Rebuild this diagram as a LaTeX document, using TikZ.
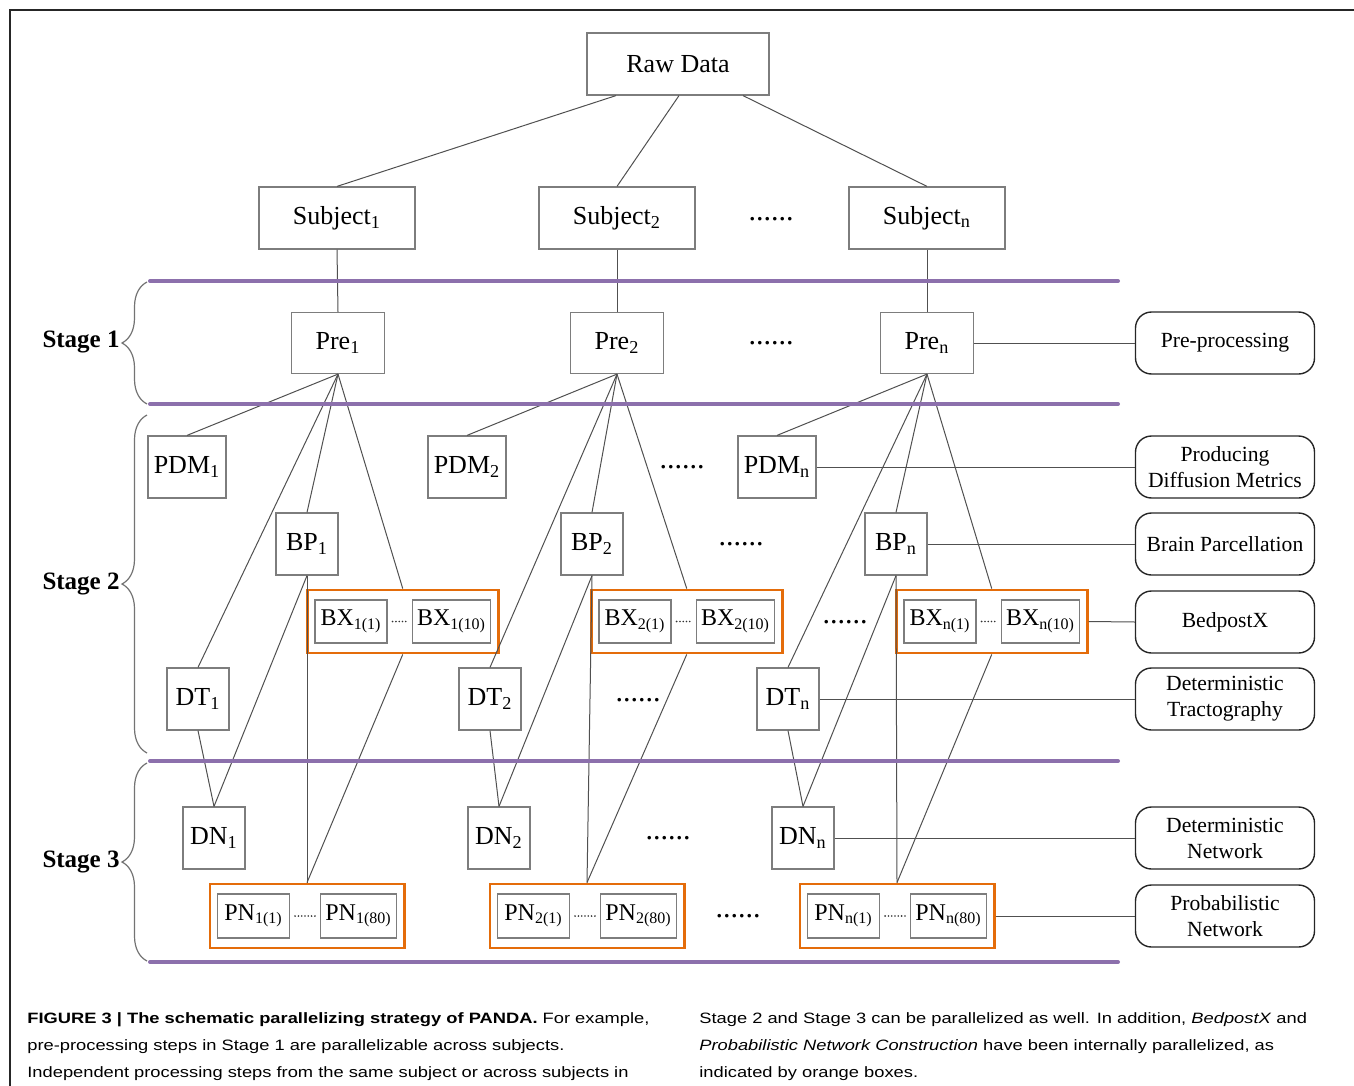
\documentclass[tikz,border=0pt]{standalone}
\usepackage{fontspec}
\setmainfont{Liberation Serif}
\newfontfamily\capfont[FakeStretch=1.22]{Liberation Sans}
\usetikzlibrary{fit,decorations.pathreplacing,calc}
\definecolor{purp}{RGB}{140,112,172}
\definecolor{orng}{RGB}{228,108,10}
\definecolor{boxgray}{RGB}{125,125,125}
\definecolor{linegray}{RGB}{80,80,80}
\newcommand\nfont{\fontsize{13}{15}\selectfont}
\newcommand\lfont{\fontsize{10.8}{13}\selectfont}
\begin{document}
\begin{tikzpicture}[x=0.5pt,y=-0.5pt,
  box/.style={draw=boxgray, line width=0.6pt, inner sep=0pt, font=\nfont, fill=white},
  sq/.style={box, minimum width=31pt, minimum height=31pt},
  ibox/.style={box, minimum height=21.5pt, font=\fontsize{12}{14}\selectfont},
  obox/.style={draw=orng, line width=1.4pt, inner xsep=3.5pt, inner ysep=4.7pt},
  lbl/.style={draw=black!85, line width=0.7pt, rounded corners=8pt, minimum width=89.5pt, minimum height=31pt, align=center, font=\lfont, inner sep=0pt},
  conn/.style={draw=linegray, line width=0.5pt},
  sepline/.style={draw=purp, line width=2pt, line cap=round},
  bigdots/.style={font=\fontsize{15}{15}\selectfont, anchor=base, inner sep=0pt},
  idots/.style={draw=black!80, line width=0.9pt, line cap=round, dash pattern=on 0pt off 1.65pt, shorten <=2.5pt, shorten >=1.5pt},
  stagebrace/.style={draw=black!55, line width=0.6pt, decorate, decoration={brace, amplitude=12.5pt}},
  stagelbl/.style={font=\fontsize{12.5}{15}\selectfont\bfseries, anchor=east, inner sep=0pt},
  captext/.style={font=\capfont\fontsize{7.5}{13.5}\selectfont, anchor=base west, inner sep=0pt}
]
\useasboundingbox (0,0) rectangle (1354,1086);
\draw[line width=1pt, black!85] (10,1086) -- (10,10) -- (1354,10);

\node[box, minimum width=91pt, minimum height=31pt] (raw) at (678,64) {Raw Data};

\foreach \k/\s/\p/\m/\b/\x/\d/\e/\q in {1/337/338/187/307/403/198/214/306.5, 2/617/617/467/592/687/490/499/586.5, n/927/927/777/896/992/788/803/896.5}{
  \node[box, minimum width=78pt, minimum height=31pt] (s\k) at (\s,218) {Subject\textsubscript{\k}};
  \node[box, minimum width=46.5pt, minimum height=30.5pt] (pre\k) at (\p,343) {Pre\textsubscript{\k}};
  \node[box, minimum width=39pt, minimum height=31pt] (pdm\k) at (\m,467) {PDM\textsubscript{\k}};
  \node[sq] (bp\k) at (\b,544) {BP\textsubscript{\k}};
  \node[ibox, minimum width=36pt] (bx\k-a) at ({\x-52},621.5) {BX\textsubscript{\k(1)}};
  \node[ibox, minimum width=39pt] (bx\k-b) at ({\x+48.5},621.5) {BX\textsubscript{\k(10)}};
  \node[obox, fit=(bx\k-a)(bx\k-b)] (bx\k) {};
  \draw[idots] (bx\k-a.east) -- (bx\k-b.west);
  \node[sq] (dt\k) at (\d,699) {DT\textsubscript{\k}};
  \node[sq] (dn\k) at (\e,838) {DN\textsubscript{\k}};
  \node[ibox, minimum width=36pt, minimum height=22pt] (pn\k-a) at ({\q-53},916) {PN\textsubscript{\k(1)}};
  \node[ibox, minimum width=38pt, minimum height=22pt] (pn\k-b) at ({\q+52},916) {PN\textsubscript{\k(80)}};
  \node[obox, fit=(pn\k-a)(pn\k-b)] (pn\k) {};
  \draw[idots] (pn\k-a.east) -- (pn\k-b.west);
  \draw[conn] (s\k.south) -- (pre\k.north);
  \draw[conn] (pre\k.south) -- (pdm\k.north);
  \draw[conn] (pre\k.south) -- (bp\k.north);
  \draw[conn] (pre\k.south) -- (bx\k.north);
  \draw[conn] (pre\k.south) -- (dt\k.north);
  \draw[conn] (dt\k.south) -- (dn\k.north);
  \draw[conn] (bp\k.south) -- (dn\k.north);
  \draw[conn] (bp\k.south) -- (pn\k.north);
  \draw[conn] (bx\k.south) -- (pn\k.north);
}

\draw[conn] ([xshift=-31pt]raw.south) -- (s1.north);
\draw[conn] ([xshift=0.5pt]raw.south) -- (s2.north);
\draw[conn] ([xshift=32.5pt]raw.south) -- (sn.north);

% dots
\node[bigdots] (d1) at (771,220) {......};
\node[bigdots] (d2) at (771,344) {......};
\node[bigdots] (d3) at (682,468) {......};
\node[bigdots] (d4) at (741,545) {......};
\node[bigdots] (d5) at (845,623) {......};
\node[bigdots] (d6) at (638,701) {......};
\node[bigdots] (d7) at (668,839) {......};
\node[bigdots] (d8) at (738,917) {......};

% right labels
\node[lbl] (lpre) at (1225,343) {Pre-processing};
\node[lbl] (lpdm) at (1225,467) {Producing\\Diffusion Metrics};
\node[lbl] (lbp) at (1225,544) {Brain Parcellation};
\node[lbl] (lbx) at (1225,622) {BedpostX};
\node[lbl] (ldt) at (1225,699) {Deterministic\\Tractography};
\node[lbl] (ldn) at (1225,838) {Deterministic\\Network};
\node[lbl] (lpnet) at (1225,916) {Probabilistic\\Network};
\draw[conn] (pren.east) -- (lpre.west);
\draw[conn] (pdmn.east) -- (lpdm.west);
\draw[conn] (bpn.east) -- (lbp.west);
\draw[conn] (bxn.east) -- (lbx.west);
\draw[conn] (dtn.east) -- (ldt.west);
\draw[conn] (dnn.east) -- (ldn.west);
\draw[conn] (pnn.east) -- (lpnet.west);

% stage separators
\draw[sepline] (150,281) -- (1118,281);
\draw[sepline] (150,404) -- (1118,404);
\draw[sepline] (150,761) -- (1118,761);
\draw[sepline] (150,962) -- (1118,962);

% braces and stage labels
\draw[stagebrace] (147,404) -- (147,282);
\draw[stagebrace] (147,753) -- (147,415);
\draw[stagebrace] (147,961) -- (147,763);
\node[stagelbl] (st1) at (120,342) {Stage 1};
\node[stagelbl] (st2) at (120,584) {Stage 2};
\node[stagelbl] (st3) at (120,862) {Stage 3};

% caption
\node[captext] (c1) at (27,1023) {\textbf{FIGURE 3 | The schematic parallelizing strategy of PANDA.} For example,};
\node[captext] (c2) at (27,1050) {pre-processing steps in Stage 1 are parallelizable across subjects.};
\node[captext] (c3) at (27,1077) {Independent processing steps from the same subject or across subjects in};
\node[captext] (c4) at (699,1023) {Stage 2 and Stage 3 can be parallelized as well. In addition, \textit{BedpostX} and};
\node[captext] (c5) at (699,1050) {\textit{Probabilistic Network Construction} have been internally parallelized, as};
\node[captext] (c6) at (699,1077) {indicated by orange boxes.};
\end{tikzpicture}
\end{document}
